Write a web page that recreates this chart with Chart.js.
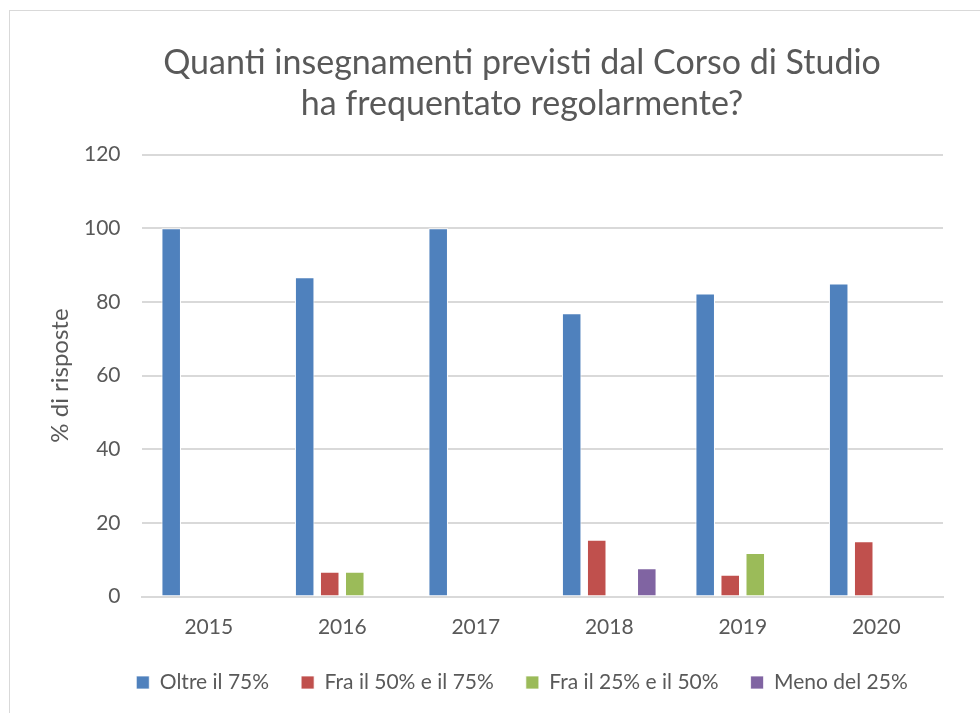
<!DOCTYPE html>
<html>
<head>
<meta charset="utf-8">
<script src="https://cdn.jsdelivr.net/npm/chart.js@4.4.1/dist/chart.umd.min.js"></script>
<style>
  body { margin: 0; background: #fff; }
  #wrap { position: relative; width: 980px; height: 713px; overflow: hidden; }
  #frame { position: absolute; left: 9px; top: 10px; width: 990px; height: 720px; border: 1px solid #d9d9d9; box-sizing: border-box; }
  #chart { position: absolute; left: 0; top: 0; }
</style>
</head>
<body>
<div id="wrap">
  <div id="frame"></div>
  <canvas id="chart" width="980" height="713"></canvas>
</div>
<script>
// Dati
const anni = ['2015', '2016', '2017', '2018', '2019', '2020'];
const oltre75 = [100, 86.7, 100, 76.9, 82.3, 85];
const fra50e75 = [0, 6.7, 0, 15.4, 5.9, 15];
const fra25e50 = [0, 6.7, 0, 0, 11.8, 0];
const meno25 = [0, 0, 0, 7.7, 0, 0];
const nomiSerie = ['Oltre il 75%', 'Fra il 50% e il 75%', 'Fra il 25% e il 50%', 'Meno del 25%'];
const colori = ['#4f81bd', '#c0504d', '#9bbb59', '#8064a2'];
const titolo = ['Quanti insegnamenti previsti dal Corso di Studio', 'ha frequentato regolarmente?'];

const grigio = '#595959';
const font = 'Lato, "Open Sans", sans-serif';

const serie = [oltre75, fra50e75, fra25e50, meno25];
const datasets = serie.map((valori, i) => ({
    label: nomiSerie[i],
    data: valori,
    backgroundColor: colori[i],
    borderColor: '#ffffff',
    borderWidth: { top: 1, left: 1, right: 1, bottom: 0 },
    barPercentage: 0.78,
    categoryPercentage: 0.75
}));

new Chart(document.getElementById('chart'), {
    type: 'bar',
    data: { labels: anni, datasets: datasets },
    options: {
        responsive: false,
        animation: false,
        layout: { padding: { top: 0, right: 37, bottom: 10, left: 101 } },
        plugins: {
            title: {
                display: true,
                text: titolo,
                color: grigio,
                font: { family: font, size: 34, weight: 'normal', lineHeight: 1.2 },
                padding: { top: 43, bottom: 30 }
            },
            legend: {
                position: 'bottom',
                labels: {
                    color: grigio,
                    font: { family: font, size: 21 },
                    boxWidth: 13,
                    boxHeight: 13,
                    padding: 32
                }
            },
            tooltip: { enabled: false }
        },
        scales: {
            x: {
                grid: { display: false, drawTicks: false },
                border: { display: true, color: '#d9d9d9', width: 2 },
                ticks: { color: grigio, font: { family: font, size: 21 }, padding: 18 },
                afterFit: function(scale) { scale.height = 43.5; }
            },
            y: {
                min: 0,
                max: 120,
                // mirror + crossAlign far: etichette allineate a destra senza clip sull'asse stretto
                ticks: { stepSize: 20, color: grigio, font: { family: font, size: 21 }, mirror: true, crossAlign: 'far', padding: -58 },
                grid: { color: '#d9d9d9', lineWidth: 2, drawTicks: false },
                border: { display: false },
                title: {
                    display: true,
                    text: '% di risposte',
                    color: grigio,
                    font: { family: font, size: 24 },
                    padding: { top: -55, bottom: 0 }
                },
                afterFit: function(scale) { scale.width = 41; }
            }
        }
    }
});
</script>
</body>
</html>
